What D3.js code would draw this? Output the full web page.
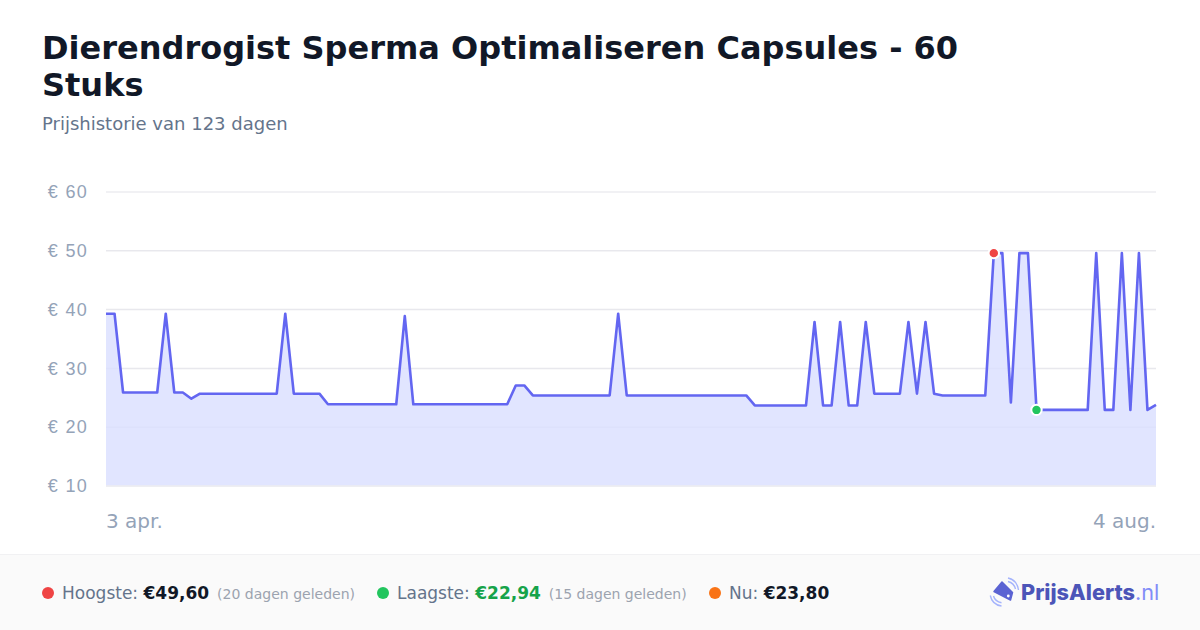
<!DOCTYPE html>
<html lang="nl">
<head>
<meta charset="utf-8">
<script src="https://cdn.jsdelivr.net/npm/d3@7"></script>
<style>
  html, body { margin: 0; padding: 0; background: #fff; }
  svg { display: block; font-family: "DejaVu Sans", sans-serif; }
  .y.axis path, .y.axis line.tick-mark { display: none; }
  .y.axis text { fill: #94a3b8; font-size: 18px; letter-spacing: 1.3px; }
</style>
</head>
<body>
<script>
// titel en teksten
const titleLines = ["Dierendrogist Sperma Optimaliseren Capsules - 60", "Stuks"],
  subtitle = "Prijshistorie van 123 dagen",
  xLabels = ["3 apr.", "4 aug."];

// y-as
const yTicks = [10, 20, 30, 40, 50, 60];

// prijs per dag
const prices = [
  39.3, 39.3, 25.9, 25.9, 25.9, 25.9, 25.9, 39.3, 25.9, 25.9,
  24.85, 25.7, 25.7, 25.7, 25.7, 25.7, 25.7, 25.7, 25.7, 25.7,
  25.7, 39.3, 25.7, 25.7, 25.7, 25.7, 23.9, 23.9, 23.9, 23.9,
  23.9, 23.9, 23.9, 23.9, 23.9, 38.9, 23.9, 23.9, 23.9, 23.9,
  23.9, 23.9, 23.9, 23.9, 23.9, 23.9, 23.9, 23.9, 27.1, 27.1,
  25.4, 25.4, 25.4, 25.4, 25.4, 25.4, 25.4, 25.4, 25.4, 25.4,
  39.3, 25.4, 25.4, 25.4, 25.4, 25.4, 25.4, 25.4, 25.4, 25.4,
  25.4, 25.4, 25.4, 25.4, 25.4, 25.4, 23.7, 23.7, 23.7, 23.7,
  23.7, 23.7, 23.7, 37.9, 23.7, 23.7, 37.9, 23.7, 23.7, 37.9,
  25.7, 25.7, 25.7, 25.7, 37.9, 25.7, 37.9, 25.7, 25.4, 25.4,
  25.4, 25.4, 25.4, 25.4, 49.6, 49.6, 24.2, 49.6, 49.6, 22.94,
  22.94, 22.94, 22.94, 22.94, 22.94, 22.94, 49.6, 22.94, 22.94, 49.6,
  22.94, 49.6, 22.94, 23.8
];

// hoogste en laagste punt
const highIndex = 104,
  lowIndex = 109;

// legenda
const legendLabels = ["Hoogste:", "Laagste:", "Nu:"],
  legendValues = ["€49,60", "€22,94", "€23,80"],
  legendNotes = ["(20 dagen geleden)", "(15 dagen geleden)", ""],
  legendColors = ["#ef4444", "#22c55e", "#f97316"],
  legendValueColors = ["#111827", "#16a34a", "#111827"],
  legendX = [48, 383, 715];

const width = 1200,
  height = 630,
  plot = { left: 106, right: 1156, top: 192, bottom: 486 };

let svg = d3.select("body")
  .append("svg")
  .attr("width", width)
  .attr("height", height);

// titel
svg.append("g")
  .selectAll("text")
  .data(titleLines)
  .join("text")
  .attr("x", 42)
  .attr("y", (d, i) => 59 + i * 37)
  .attr("fill", "#111827")
  .attr("font-size", 32)
  .attr("font-weight", 700)
  .text(d => d);

svg.append("text")
  .attr("x", 42)
  .attr("y", 130)
  .attr("fill", "#64748b")
  .attr("font-size", 18)
  .text(subtitle);

// schalen
let x = d3.scaleLinear()
  .domain([0, prices.length - 1])
  .range([plot.left, plot.right]);

let y = d3.scaleLinear()
  .domain([10, 60])
  .range([plot.bottom, plot.top]);

// rasterlijnen
svg.append("g")
  .selectAll("line")
  .data(yTicks)
  .join("line")
  .attr("x1", plot.left)
  .attr("x2", plot.right)
  .attr("y1", d => y(d))
  .attr("y2", d => y(d))
  .attr("stroke", "#e5e6eb")
  .attr("stroke-opacity", d => d === 60 ? 0.7 : 0.9)
  .attr("stroke-width", 1.5);

// y-as
let yAxis = d3.axisLeft(y)
  .tickValues(yTicks)
  .tickSize(0)
  .tickPadding(0)
  .tickFormat(d => "€ " + d);

svg.append("g")
  .attr("class", "y axis")
  .attr("transform", "translate(88, 0)")
  .call(yAxis);

// x-labels
svg.append("g")
  .selectAll("text")
  .data(xLabels)
  .join("text")
  .attr("x", (d, i) => i === 0 ? plot.left : plot.right)
  .attr("y", 528)
  .attr("text-anchor", (d, i) => i === 0 ? "start" : "end")
  .attr("fill", "#94a3b8")
  .attr("font-size", 20)
  .text(d => d);

// vlak en lijn
let area = d3.area()
  .x((d, i) => x(i))
  .y0(plot.bottom - 0.7)
  .y1(d => y(d));

let line = d3.line()
  .x((d, i) => x(i))
  .y(d => y(d));

svg.append("path")
  .attr("fill", "#d9deff")
  .attr("fill-opacity", 0.8)
  .attr("d", area(prices));

svg.append("path")
  .attr("fill", "none")
  .attr("stroke", "#6366f1")
  .attr("stroke-width", 2.6)
  .attr("stroke-linejoin", "round")
  .attr("d", line(prices));

// markeringen
svg.append("g")
  .selectAll("circle")
  .data([highIndex, lowIndex])
  .join("circle")
  .attr("cx", d => x(d))
  .attr("cy", d => y(prices[d]))
  .attr("r", 5.2)
  .attr("fill", (d, i) => legendColors[i])
  .attr("stroke", "#fff")
  .attr("stroke-width", 2);

// voettekst
svg.append("rect")
  .attr("x", 0)
  .attr("y", 555)
  .attr("width", width)
  .attr("height", height - 555)
  .attr("fill", "#fafafa");

svg.append("line")
  .attr("x1", 0)
  .attr("x2", width)
  .attr("y1", 554.5)
  .attr("y2", 554.5)
  .attr("stroke", "#f1f1f3");

let legend = svg.append("g")
  .selectAll("g")
  .data(legendLabels)
  .join("g")
  .attr("transform", (d, i) => "translate(" + legendX[i] + ", 593)");

legend.append("circle")
  .attr("r", 6)
  .attr("fill", (d, i) => legendColors[i]);

legend.append("text")
  .attr("x", 14)
  .attr("y", 6)
  .attr("font-size", 17)
  .attr("fill", "#64748b")
  .each(function (d, i) {
    let t = d3.select(this);
    t.append("tspan").text(d + " ");
    t.append("tspan")
      .attr("font-weight", 700)
      .attr("font-size", 17)
      .attr("fill", legendValueColors[i])
      .text(legendValues[i]);
    if (legendNotes[i]) {
      t.append("tspan")
        .attr("dx", 8)
        .attr("font-size", 14)
        .attr("fill", "#9ca3af")
        .text(legendNotes[i]);
    }
  });

// logo
let logo = svg.append("g").attr("transform", "translate(990, 578)");

logo.append("path")
  .attr("d", "M12 4 L22.5 14.5 L20.5 22 L4 13.5 Z")
  .attr("fill", "#5b63d3")
  .attr("stroke", "#5b63d3")
  .attr("stroke-width", 1.5)
  .attr("stroke-linejoin", "round");

logo.append("circle")
  .attr("cx", 18.3)
  .attr("cy", 18)
  .attr("r", 1.4)
  .attr("fill", "#fff");

logo.selectAll("path.wave")
  .data([
    "M18 3.5 Q24 5 25.5 11",
    "M18 0 Q27 2 28.5 12",
    "M3.5 18 Q5 23.5 11.5 24.8",
    "M0.3 17.5 Q2 26.5 11.5 28"
  ])
  .join("path")
  .attr("class", "wave")
  .attr("d", d => d)
  .attr("fill", "none")
  .attr("stroke", "#a5b4fc")
  .attr("stroke-width", 1.4);

let logoText = svg.append("text")
  .attr("x", 1021)
  .attr("y", 600)
  .attr("font-family", "Inter, sans-serif")
  .attr("font-size", 21.7);

logoText.append("tspan")
  .attr("font-weight", 800)
  .attr("fill", "#4c55b8")
  .text("PrijsAlerts");

logoText.append("tspan")
  .attr("font-weight", 400)
  .attr("fill", "#818cf8")
  .text(".nl");
</script>
</body>
</html>
